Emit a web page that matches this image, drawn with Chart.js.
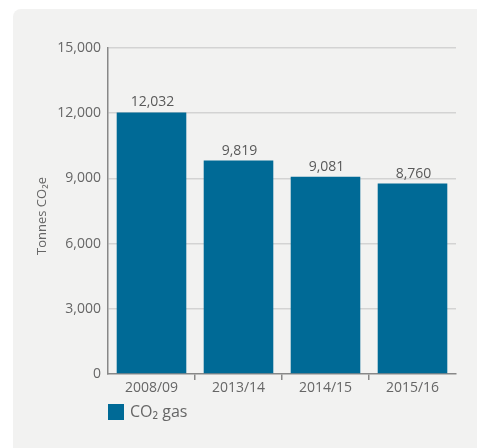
<!DOCTYPE html>
<html>
<head>
<meta charset="utf-8">
<script src="https://cdn.jsdelivr.net/npm/chart.js@4/dist/chart.umd.min.js"></script>
<style>
  html, body { margin: 0; padding: 0; background: #fff; }
  #wrap { width: 477px; height: 448px; }
</style>
</head>
<body>
<div id="wrap"><canvas id="c" width="477" height="448"></canvas></div>
<script>
const years = ['2008/09', '2013/14', '2014/15', '2015/16'];
const co2Gas = [12032, 9819, 9081, 8760];
const yTicks = [0, 3000, 6000, 9000, 12000, 15000];

const barColor = '#006a96';
const textColor = '#666666';
const fontFamily = '"Open Sans", "Noto Sans", sans-serif';

// gray panel behind the chart
const panelPlugin = {
    id: 'panel',
    beforeDraw(chart) {
        const ctx = chart.ctx;
        ctx.save();
        ctx.fillStyle = '#ffffff';
        ctx.fillRect(0, 0, chart.width, chart.height);
        ctx.fillStyle = '#f2f2f1';
        ctx.beginPath();
        ctx.roundRect(13, 9, chart.width - 13, chart.height - 9, [8, 0, 0, 0]);
        ctx.fill();
        ctx.restore();
    }
};

// values above bars, axis title and legend
const extrasPlugin = {
    id: 'extras',
    afterDatasetsDraw(chart) {
        const ctx = chart.ctx;
        const meta = chart.getDatasetMeta(0);
        ctx.save();
        ctx.fillStyle = '#595959';
        ctx.font = '14px ' + fontFamily;
        ctx.textAlign = 'center';
        ctx.textBaseline = 'bottom';
        meta.data.forEach((bar, i) => {
            ctx.fillText(co2Gas[i].toLocaleString('en-US'), bar.x + 1, bar.y - 3);
        });

        // y axis title
        ctx.fillStyle = textColor;
        ctx.font = '13px ' + fontFamily;
        ctx.translate(42, 216);
        ctx.rotate(-Math.PI / 2);
        ctx.textAlign = 'center';
        ctx.textBaseline = 'middle';
        ctx.fillText('Tonnes CO\u2082e', 0, 0);
        ctx.restore();

        // legend
        ctx.save();
        ctx.fillStyle = barColor;
        ctx.fillRect(108, 404, 16, 16);
        ctx.fillStyle = textColor;
        ctx.font = '16px ' + fontFamily;
        ctx.textBaseline = 'middle';
        ctx.textAlign = 'left';
        ctx.fillText('CO\u2082 gas', 130, 412);
        ctx.restore();
    }
};

new Chart(document.getElementById('c'), {
    type: 'bar',
    data: {
        labels: years,
        datasets: [{
            label: 'CO\u2082 gas',
            data: co2Gas,
            backgroundColor: barColor,
            categoryPercentage: 0.8,
            barPercentage: 1.0,
        }]
    },
    options: {
        responsive: false,
        animation: false,
        layout: { padding: { left: 0, top: 48, right: 21, bottom: 0 } },
        scales: {
            x: {
                grid: {
                    offset: true,
                    drawOnChartArea: false,
                    drawTicks: true,
                    tickLength: 6,
                    lineWidth: 1.5,
                    color: c => (c.type === 'tick' && c.index > 0) ? '#888888' : 'rgba(0,0,0,0)',
                },
                border: { display: true, color: '#888888', width: 1.5 },
                ticks: {
                    color: textColor,
                    font: { family: fontFamily, size: 14 },
                    padding: 0,
                },
                afterFit: s => { s.height = 74; }
            },
            y: {
                min: 0,
                max: 15000,
                afterBuildTicks: s => { s.ticks = yTicks.map(v => ({ value: v })); },
                grid: {
                    color: c => c.tick && c.tick.value === 0 ? 'rgba(0,0,0,0)' : '#d3d3d3',
                    lineWidth: 1.5,
                    drawTicks: false,
                },
                border: { display: true, color: '#888888', width: 1.5 },
                ticks: {
                    color: textColor,
                    font: { family: fontFamily, size: 14 },
                    padding: 7,
                    callback: v => v.toLocaleString('en-US'),
                },
                afterFit: s => { s.width = 108; }
            }
        },
        plugins: {
            legend: { display: false },
            tooltip: { enabled: false }
        }
    },
    plugins: [panelPlugin, extrasPlugin]
});
</script>
</body>
</html>
